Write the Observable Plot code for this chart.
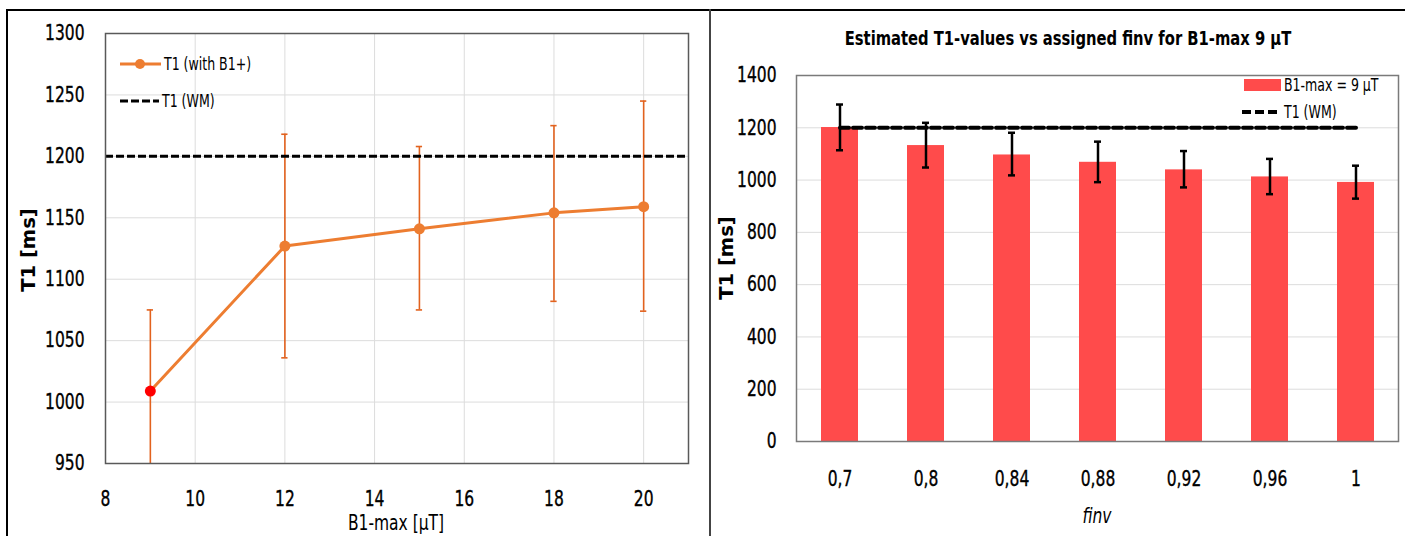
<!DOCTYPE html>
<html><head><meta charset="utf-8">
<script src="https://cdn.jsdelivr.net/npm/d3@7"></script>
<script src="https://cdn.jsdelivr.net/npm/@observablehq/plot@0.6"></script>
<style>
body{margin:0;background:#fff;}
#wrap{position:relative;width:1405px;height:536px;overflow:hidden;font-family:"DejaVu Sans Condensed","Liberation Sans Narrow",sans-serif;color:#000;}
.abs{position:absolute;}
.line{position:absolute;background:#000;}
.ylab{position:absolute;font-family:"DejaVu Sans",sans-serif;font-weight:bold;font-size:19.5px;transform:translate(-50%,-50%) rotate(-90deg);white-space:nowrap;}
.xlab{position:absolute;font-size:21px;transform:translate(-50%,-50%) scaleX(0.82);white-space:nowrap;}
.leg{position:absolute;display:flex;align-items:center;font-size:17px;white-space:nowrap;}
.leg span{display:inline-block;transform:scaleX(0.82);transform-origin:left center;}
.leg svg{margin-right:3px;}
svg text{stroke:#000;stroke-width:0.35px;}
</style></head><body><div id="wrap">
<div id="left" class="abs" style="left:0;top:0;"></div>
<div id="right" class="abs" style="left:710px;top:0;"></div>
<div class="line" style="left:6px;top:9px;width:1399px;height:2px;"></div>
<div class="line" style="left:6px;top:9px;width:2px;height:527px;"></div>
<div class="line" style="left:709px;top:9px;width:2px;height:527px;background:#444;"></div>
<div class="ylab" style="left:28px;top:250px;">T1 [ms]</div>
<div class="xlab" style="left:396px;top:523px;">B1-max [µT]</div>
<div class="ylab" style="left:726px;top:258px;">T1 [ms]</div>
<div class="xlab" style="left:1097px;top:516px;font-style:italic;">finv</div>
<div class="abs" style="left:1068px;top:38px;transform:translate(-50%,-50%) scaleX(0.82);font-weight:bold;font-size:20px;white-space:nowrap;">Estimated T1-values vs assigned finv for B1-max 9 µT</div>
<div class="leg" style="left:120px;top:64px;transform:translateY(-50%);"><svg width="41" height="12"><line x1="0" y1="6" x2="41" y2="6" stroke="#ED7D31" stroke-width="3"/><circle cx="20" cy="6" r="5" fill="#ED7D31"/></svg><span>T1 (with B1+)</span></div>
<div class="leg" style="left:120px;top:101px;transform:translateY(-50%);"><svg width="39" height="8"><line x1="0" y1="4" x2="39" y2="4" stroke="#000" stroke-width="3" stroke-dasharray="8,3"/></svg><span>T1 (WM)</span></div>
<div class="leg" style="left:1244px;top:85px;transform:translateY(-50%);"><svg width="37" height="12"><rect x="0" y="0" width="37" height="12" fill="#FF4B4B"/></svg><span>B1-max = 9 µT</span></div>
<div class="leg" style="left:1242px;top:112px;transform:translateY(-50%);"><svg width="39" height="8"><line x1="0" y1="4" x2="39" y2="4" stroke="#000" stroke-width="4" stroke-dasharray="9,4"/></svg><span>T1 (WM)</span></div>
</div>
<script>
// Left chart: T1 vs B1-max
const b1max = [9, 12, 15, 18, 20];
const t1WithB1 = [1009, 1127, 1141, 1154, 1159];
const t1WithB1Low = [943, 1036, 1075, 1082, 1074];
const t1WithB1High = [1075, 1218, 1208, 1225, 1245];
const highlightB1 = 9;
const t1WM = 1200;
const leftXTicks = [8, 10, 12, 14, 16, 18, 20];
const leftYTicks = [950, 1000, 1050, 1100, 1150, 1200, 1250, 1300];

// Right chart: T1 vs finv (B1-max 9 µT)
const finv = [0.7, 0.8, 0.84, 0.88, 0.92, 0.96, 1];
const t1Finv = [1201, 1132, 1096, 1068, 1039, 1012, 991];
const t1FinvLow = [1114, 1048, 1018, 992, 972, 946, 929];
const t1FinvHigh = [1289, 1219, 1181, 1147, 1111, 1081, 1055];
const rightYTicks = [0, 200, 400, 600, 800, 1000, 1200, 1400];

const leftData = b1max.map((b, i) => ({b1: b, t1: t1WithB1[i], lo: t1WithB1Low[i], hi: t1WithB1High[i]}));
const rightData = finv.map((f, i) => ({finv: f, t1: t1Finv[i], lo: t1FinvLow[i], hi: t1FinvHigh[i]}));

const font = '"DejaVu Sans Condensed","Liberation Sans Narrow",sans-serif';
const gridColor = "#dcdcdc";
const errOrange = "#E2621E";
const capHalf = 0.07;

// narrow the tick labels horizontally (the reference uses a condensed face)
function condense(svg, k) {
  svg.querySelectorAll("text").forEach(t => {
    const w = t.getComputedTextLength();
    if (w > 0) {
      t.setAttribute("textLength", (w * k).toFixed(2));
      t.setAttribute("lengthAdjust", "spacingAndGlyphs");
    }
  });
}

const left = Plot.plot({
  width: 710, height: 536,
  marginLeft: 105, marginRight: 22, marginTop: 33, marginBottom: 73,
  style: {fontFamily: font, fontSize: "21px", color: "#000", background: "transparent"},
  x: {domain: [8, 21], ticks: leftXTicks, label: null, tickSize: 0, tickPadding: 28, tickFormat: d => String(d)},
  y: {domain: [950, 1300], ticks: leftYTicks, label: null, tickSize: 0, tickPadding: 21, tickFormat: d => String(d)},
  marks: [
    Plot.gridX(leftXTicks, {stroke: gridColor, strokeOpacity: 1}),
    Plot.gridY(leftYTicks, {stroke: gridColor, strokeOpacity: 1}),
    Plot.ruleX(leftData, {x: "b1", y1: "lo", y2: "hi", stroke: errOrange, strokeWidth: 1.6, clip: true}),
    Plot.ruleY(leftData, {y: "hi", x1: d => d.b1 - capHalf, x2: d => d.b1 + capHalf, stroke: errOrange, strokeWidth: 1.6}),
    Plot.ruleY(leftData.filter(d => d.lo >= 950), {y: "lo", x1: d => d.b1 - capHalf, x2: d => d.b1 + capHalf, stroke: errOrange, strokeWidth: 1.6}),
    Plot.ruleY([t1WM], {stroke: "#000", strokeWidth: 3, strokeDasharray: "8,3"}),
    Plot.line(leftData, {x: "b1", y: "t1", stroke: "#ED7D31", strokeWidth: 3}),
    Plot.dot(leftData, {x: "b1", y: "t1", r: 5.5, fill: d => d.b1 === highlightB1 ? "#FF0000" : "#ED7D31"}),
    Plot.frame({stroke: "#595959", strokeWidth: 1.5})
  ]
});
document.getElementById("left").appendChild(left);
condense(left, 0.82);

const right = Plot.plot({
  width: 695, height: 536,
  marginLeft: 86, marginRight: 7, marginTop: 75, marginBottom: 95,
  style: {fontFamily: font, fontSize: "21px", color: "#000", background: "transparent"},
  x: {domain: finv, paddingInner: 0.57, paddingOuter: 0.285, label: null, tickSize: 0, tickPadding: 30, tickFormat: d => String(d).replace(".", ",")},
  y: {domain: [0, 1400], ticks: rightYTicks, label: null, tickSize: 0, tickPadding: 20, tickFormat: d => String(d)},
  marks: [
    Plot.gridY(rightYTicks, {stroke: gridColor, strokeOpacity: 1}),
    Plot.barY(rightData, {x: "finv", y: "t1", fill: "#FF4B4B"}),
    Plot.line(rightData, {x: "finv", y: () => t1WM, stroke: "#000", strokeWidth: 4, strokeDasharray: "9,4"}),
    Plot.ruleX(rightData, {x: "finv", y1: "lo", y2: "hi", stroke: "#000", strokeWidth: 2.5}),
    Plot.tickY(rightData, {x: "finv", y: "hi", stroke: "#000", strokeWidth: 2.5, insetLeft: 15, insetRight: 15}),
    Plot.tickY(rightData, {x: "finv", y: "lo", stroke: "#000", strokeWidth: 2.5, insetLeft: 15, insetRight: 15}),
    Plot.frame({stroke: "#7a7a7a", strokeWidth: 1.5})
  ]
});
document.getElementById("right").appendChild(right);
condense(right, 0.82);
</script>
</body></html>
